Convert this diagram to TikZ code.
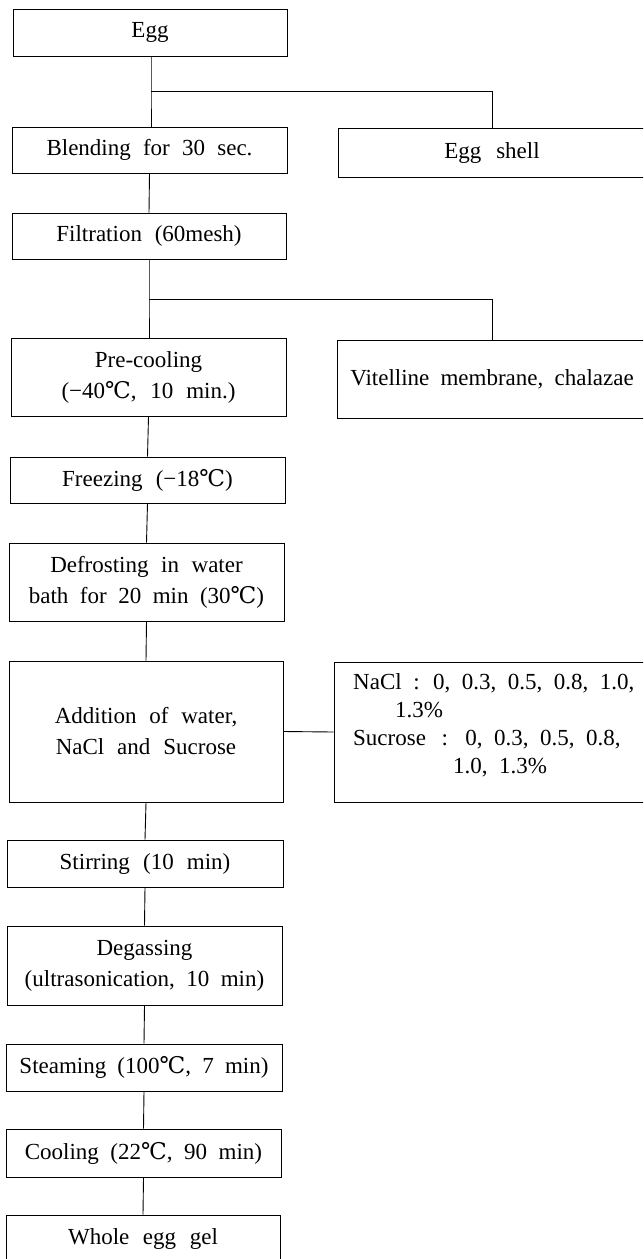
\documentclass[tikz,border=0pt]{standalone}
\usepackage{fontspec}
\setmainfont{Liberation Serif}
\newfontfamily\symfont{DejaVu Serif}
\newcommand{\degc}{{\symfont ℃}}
\newcommand{\wsp}{\spaceskip=0.46em plus 0.1em minus 0.05em\relax}
\newcommand{\wspw}{\spaceskip=0.5em plus 0.1em minus 0.05em\relax}
\begin{document}
\begin{tikzpicture}[x=1pt,y=-1pt,
  box/.style={draw, line width=0.9pt, inner sep=0pt, align=center, text width=#1,
    execute at begin node={\wsp}},
  box/.default=272pt,
  link/.style={line width=0.9pt},
  every node/.style={font=\fontsize{23}{31}\selectfont}]
\useasboundingbox (0,0) rectangle (643,1259);
\clip (0,0) rectangle (643,1259);
% main column
\node[box, minimum width=274pt, minimum height=47pt] (egg) at (150,32.5) {Egg};
\node[box, minimum width=275pt, minimum height=46pt] (blend) at (149.5,150) {Blending for 30 sec.};
\node[box, minimum width=308pt, minimum height=49pt] (shell) at (492,152.5) {Egg shell};
\node[box, minimum width=274pt, minimum height=46pt] (filt) at (149,236) {Filtration (60mesh)};
\node[box, minimum width=275pt, minimum height=78pt] (pre) at (148.5,377) {Pre-cooling\\(−40\degc, 10 min.)};
\node[box=305pt, minimum width=310pt, minimum height=78pt] (vit) at (492,379) {Vitelline membrane, chalazae};
\node[box, minimum width=275pt, minimum height=46pt] (freeze) at (147.5,480) {Freezing (−18\degc)};
\node[box, minimum width=275pt, minimum height=78pt] (defrost) at (146.5,582) {Defrosting in water\\bath for 20 min (30\degc)};
\node[box, minimum width=274pt, minimum height=141pt] (add) at (146,731.5) {Addition of water,\\NaCl and Sucrose};
\node[draw, line width=0.9pt, minimum width=316pt, minimum height=140pt, inner sep=0pt] (nacl) at (492,732) {};
\node[anchor=west, align=left, inner sep=0pt, font=\fontsize{23}{28}\selectfont, execute at begin node={\wspw}] (nacltext) at (353,725)
  {NaCl : 0, 0.3, 0.5, 0.8, 1.0,\\\hspace*{42pt}1.3\%\\Sucrose\hspace{4pt} :\hspace{4pt} 0, 0.3, 0.5, 0.8,\\\hspace*{100pt}1.0, 1.3\%};
\node[box, minimum width=276pt, minimum height=47pt] (stir) at (145,863.5) {Stirring (10 min)};
\node[box, minimum width=275pt, minimum height=79pt] (degas) at (144.5,965.5) {Degassing\\(ultrasonication, 10 min)};
\node[box, minimum width=276pt, minimum height=47pt] (steam) at (144,1067.5) {Steaming (100\degc, 7 min)};
\node[box, minimum width=275pt, minimum height=48pt] (cool) at (143.5,1153) {Cooling (22\degc, 90 min)};
\node[box, minimum width=274pt, minimum height=48pt] (whole) at (143,1239) {Whole egg gel};
% junctions
\coordinate (j1) at (151,91);
\coordinate (j2) at (149,299);
% connectors
\draw[link] (egg.south -| j1) -- (j1) -- (j1 |- blend.north);
\draw[link] (j1) -| (shell.north);
\draw[link] (blend.south) -- (filt.north);
\draw[link] (filt.south -| j2) -- (j2) -- (j2 |- pre.north);
\draw[link] (j2) -| (vit.north);
\draw[link] (pre.south) -- (freeze.north);
\draw[link] (freeze.south) -- (defrost.north);
\draw[link] (defrost.south) -- (add.north);
\draw[link] (add.east) -- (nacl.west);
\draw[link] (add.south) -- (stir.north);
\draw[link] (stir.south) -- (degas.north);
\draw[link] (degas.south) -- (steam.north);
\draw[link] (steam.south) -- (cool.north);
\draw[link] (cool.south) -- (whole.north);
\end{tikzpicture}
\end{document}
